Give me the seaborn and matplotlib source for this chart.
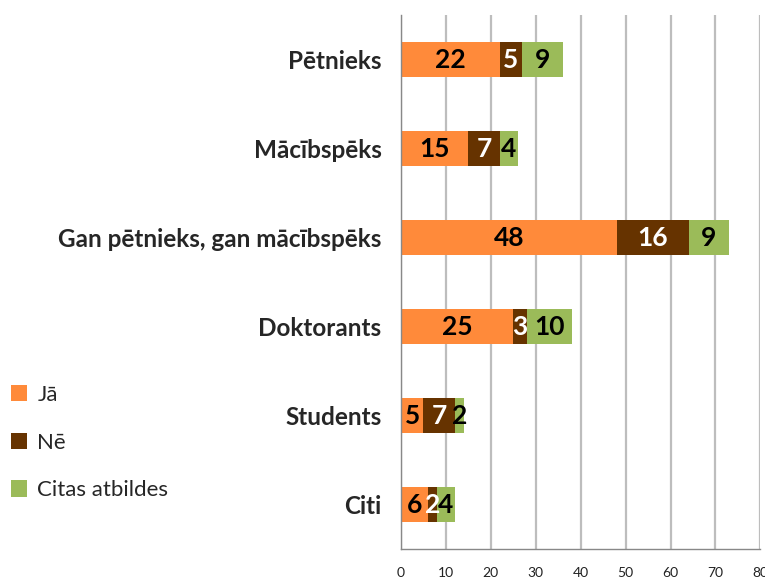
import numpy as np
import pandas as pd
import seaborn as sns
import matplotlib.pyplot as plt
from matplotlib.patches import Patch
from matplotlib.ticker import FixedLocator

categories = ['Pētnieks', 'Mācībspēks', 'Gan pētnieks, gan mācībspēks',
              'Doktorants', 'Students', 'Citi']
ja = [22, 15, 48, 25, 5, 6]
ne = [5, 7, 16, 3, 7, 2]
citas = [9, 4, 9, 10, 2, 4]
series_names = ['Jā', 'Nē', 'Citas atbildes']
colors = ['#FF8A3A', '#663300', '#9BBB59']
label_colors = ['black', 'white', 'black']

sns.set_style('white')
plt.rcParams['font.family'] = ['Lato', 'DejaVu Sans']

df = pd.DataFrame({'cat': categories, 'Jā': ja, 'Nē': ne, 'Citas atbildes': citas})
cum = df[series_names].cumsum(axis=1)

fig = plt.figure(figsize=(7.65, 5.83), dpi=100)
ax = fig.add_axes([0.524, 0.058, 0.47, 0.916])

# gridlines behind bars
ax.set_axisbelow(True)
ax.xaxis.grid(True, color='#BDBDBD', linewidth=1.6)

# draw cumulative totals, biggest first, so segments stack
for name, col in reversed(list(zip(series_names, colors))):
    sns.barplot(x=cum[name], y=df['cat'], orient='h', color=col,
                width=0.4, saturation=1, ax=ax, linewidth=0)

# segment labels
for i in range(len(categories)):
    left = 0
    for name, lc in zip(series_names, label_colors):
        v = df[name][i]
        ax.text(left + v / 2, i, str(v), ha='center', va='center',
                fontsize=19, fontweight='bold', color=lc)
        left += v

ax.set_xlim(0, 80)
ax.set_ylim(5.5, -0.5)
ax.set_xticks(range(0, 81, 10))
ax.tick_params(axis='x', direction='inout', length=10, width=1, color='#888888',
               pad=8, labelsize=10, labelcolor='#222222')

# boundary ticks on y, labels as minor ticks
ax.yaxis.set_major_locator(FixedLocator(np.arange(-0.5, 6, 1)))
ax.set_yticklabels([])
ax.set_yticks(range(len(categories)), labels=categories, minor=True)
ax.tick_params(axis='y', which='major', direction='out', length=8, width=1, color='#888888')
ax.tick_params(axis='y', which='minor', length=0, pad=14, labelsize=17.5)
for t in ax.get_yticklabels(minor=True):
    t.set_fontweight('bold')

ax.set_xlabel('')
ax.set_ylabel('')
for s in ['top', 'right']:
    ax.spines[s].set_visible(False)
for s in ['left', 'bottom']:
    ax.spines[s].set_color('#888888')
    ax.spines[s].set_linewidth(1)

handles = [Patch(facecolor=c, edgecolor='none') for c in colors]
fig.legend(handles, series_names, loc='upper left', bbox_to_anchor=(0.014, 0.340),
           frameon=False, fontsize=16, handlelength=0.75, handleheight=0.75,
           handletextpad=0.45, labelspacing=1.25, borderpad=0, borderaxespad=0)

fig.savefig('out.png', dpi=100)
